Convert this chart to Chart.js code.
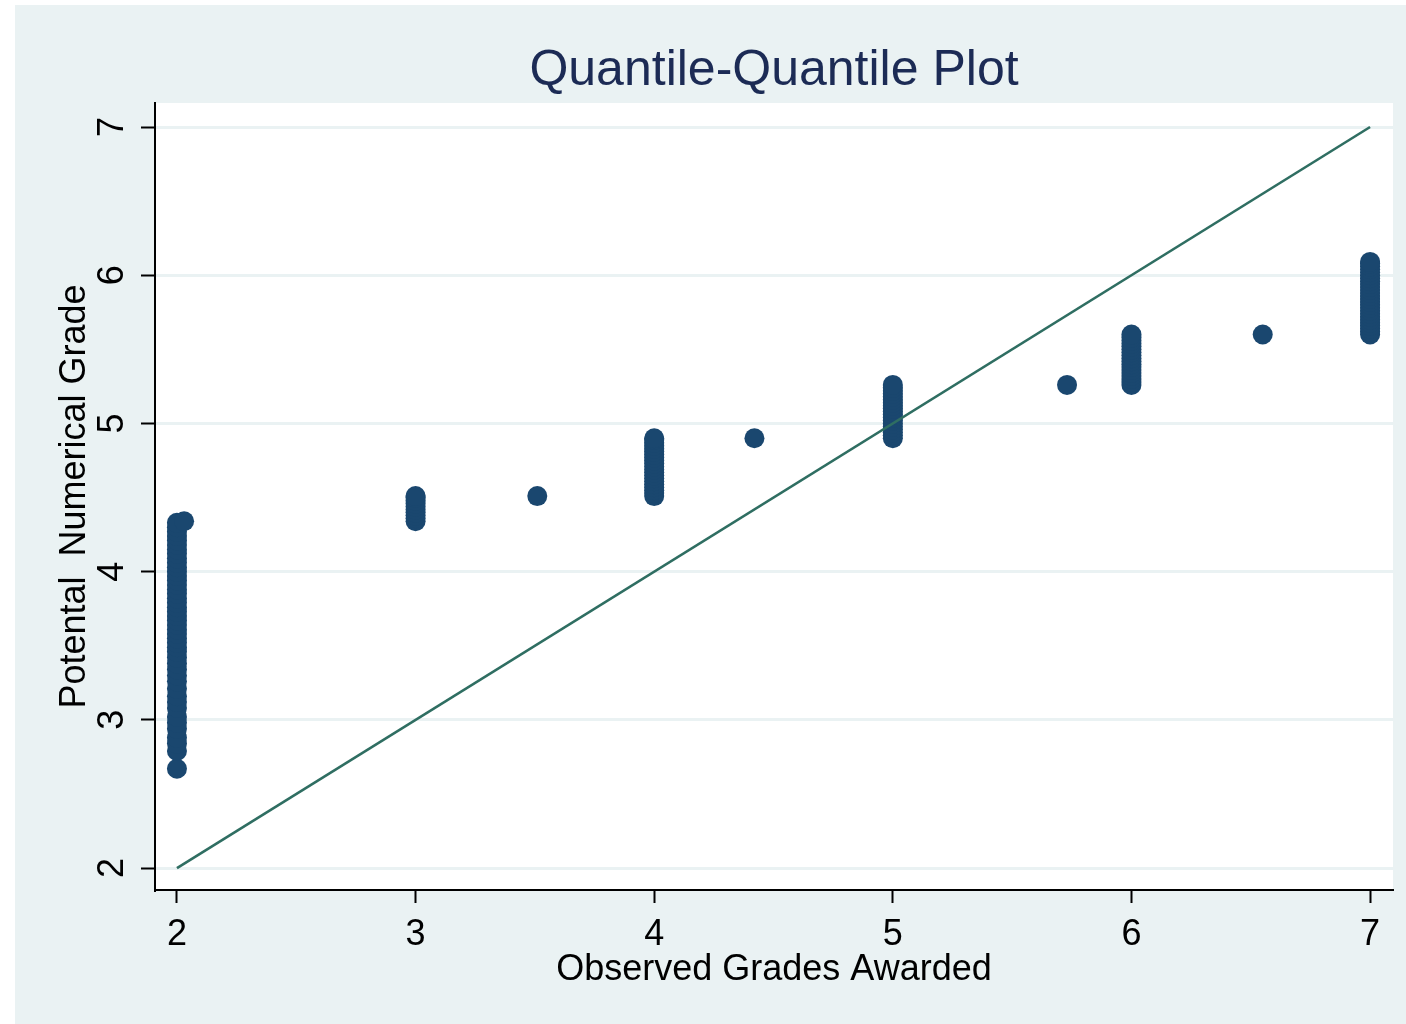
<!DOCTYPE html>
<html>
<head>
<meta charset="utf-8">
<script src="https://cdn.jsdelivr.net/npm/chart.js@4/dist/chart.umd.min.js"></script>
<style>
  html, body { margin: 0; padding: 0; background: #ffffff; }
  canvas { display: block; }
</style>
</head>
<body>
<canvas id="qq" width="1406" height="1024" style="width:1406px;height:1024px"></canvas>
<script>
// Tick labels on both axes
const xTickValues = [2, 3, 4, 5, 6, 7];
const yTickValues = [2, 3, 4, 5, 6, 7];

// Potential numerical grade quantiles, grouped by the observed grade they pair with
const potentialAtGrade2 = [2.67, 2.79, 2.84, 2.88, 2.94, 2.98, 3.02, 3.08, 3.12, 3.16, 3.21, 3.26,
  3.30, 3.34, 3.38, 3.42, 3.46, 3.49, 3.52, 3.55, 3.58, 3.61, 3.64, 3.67, 3.70, 3.73, 3.76, 3.79,
  3.82, 3.85, 3.88, 3.91, 3.94, 3.97, 4.00, 4.03, 4.06, 4.09, 4.12, 4.15, 4.18, 4.21, 4.24, 4.27,
  4.30, 4.33];
const potentialAtGrade3 = [4.34, 4.36, 4.38, 4.40, 4.42, 4.44, 4.46, 4.48, 4.50, 4.51];
const potentialAtGrade4 = [4.51, 4.53, 4.55, 4.57, 4.59, 4.61, 4.63, 4.65, 4.67, 4.69, 4.71, 4.73,
  4.75, 4.77, 4.79, 4.81, 4.83, 4.85, 4.87, 4.89, 4.90];
const potentialAtGrade5 = [4.90, 4.92, 4.94, 4.96, 4.98, 5.00, 5.02, 5.04, 5.06, 5.08, 5.10, 5.12,
  5.14, 5.16, 5.18, 5.20, 5.22, 5.24, 5.26];
const potentialAtGrade6 = [5.26, 5.28, 5.30, 5.32, 5.34, 5.36, 5.38, 5.40, 5.42, 5.44, 5.46, 5.48,
  5.50, 5.52, 5.54, 5.56, 5.58, 5.60];
const potentialAtGrade7 = [5.60, 5.62, 5.64, 5.66, 5.68, 5.70, 5.72, 5.74, 5.76, 5.78, 5.80, 5.82,
  5.84, 5.86, 5.88, 5.90, 5.92, 5.94, 5.96, 5.98, 6.00, 6.02, 6.04, 6.06, 6.08, 6.09];

// Quantile pairs that fall between whole observed grades
const betweenObserved = [2.03, 3.51, 4.42, 5.73, 6.55];
const betweenPotential = [4.34, 4.51, 4.90, 5.26, 5.60];

// Line of equality
const equalityX = [2, 7];
const equalityY = [2, 7];

const gradeColumns = [
  [2, potentialAtGrade2],
  [3, potentialAtGrade3],
  [4, potentialAtGrade4],
  [5, potentialAtGrade5],
  [6, potentialAtGrade6],
  [7, potentialAtGrade7]
];

const qqPoints = [];
gradeColumns.forEach(([grade, values]) => values.forEach(v => qqPoints.push({ x: grade, y: v })));
betweenObserved.forEach((x, i) => qqPoints.push({ x: x, y: betweenPotential[i] }));

const equalityPoints = equalityX.map((x, i) => ({ x: x, y: equalityY[i] }));

const FONT = "'Liberation Sans', Arial, Helvetica, sans-serif";
const BG = '#eaf2f3';

const backgroundPlugin = {
  id: 'stataBackground',
  beforeDraw(chart) {
    const { ctx, chartArea } = chart;
    ctx.save();
    ctx.fillStyle = '#ffffff';
    ctx.fillRect(0, 0, chart.width, chart.height);
    ctx.fillStyle = BG;
    ctx.fillRect(15, 5, chart.width - 15, chart.height - 5);
    ctx.fillStyle = '#ffffff';
    ctx.fillRect(chartArea.left, chartArea.top, chartArea.right - chartArea.left, chartArea.bottom - chartArea.top);
    ctx.restore();
  }
};

// Vertical axis labels are written sideways, reading upward
const sidewaysYLabels = {
  id: 'sidewaysYLabels',
  afterDraw(chart) {
    const scale = chart.scales.y;
    const { ctx } = chart;
    ctx.save();
    ctx.fillStyle = '#000000';
    ctx.font = '36px ' + FONT;
    ctx.textAlign = 'center';
    ctx.textBaseline = 'middle';
    scale.ticks.forEach(t => {
      const py = scale.getPixelForValue(t.value);
      ctx.save();
      ctx.translate(113, py);
      ctx.rotate(-Math.PI / 2);
      ctx.fillText(String(t.value), 0, 0);
      ctx.restore();
    });
    ctx.restore();
  }
};

new Chart(document.getElementById('qq'), {
  type: 'scatter',
  data: {
    datasets: [
      {
        type: 'line',
        data: equalityPoints,
        borderColor: '#2f6e62',
        borderWidth: 2.6,
        pointRadius: 0,
        fill: false,
        order: 0
      },
      {
        data: qqPoints,
        backgroundColor: '#1a476f',
        borderColor: '#1a476f',
        borderWidth: 0,
        pointRadius: 10,
        order: 1
      }
    ]
  },
  options: {
    responsive: false,
    animation: false,
    layout: { padding: { left: 15, right: 13, top: 0, bottom: 0 } },
    plugins: {
      legend: { display: false },
      tooltip: { enabled: false },
      title: {
        display: true,
        text: 'Quantile-Quantile Plot',
        fullSize: false,
        color: '#1c2b55',
        font: { family: FONT, size: 50, weight: 'normal' },
        padding: { top: 41, bottom: 2 }
      }
    },
    scales: {
      x: {
        type: 'linear',
        min: 1.908,
        max: 7.096,
        afterBuildTicks(scale) { scale.ticks = xTickValues.map(v => ({ value: v })); },
        afterFit(scale) { scale.height = 134; },
        ticks: {
          color: '#000000',
          font: { family: FONT, size: 36 },
          padding: 10,
          maxRotation: 0,
          minRotation: 0
        },
        grid: {
          drawOnChartArea: false,
          drawTicks: true,
          tickLength: 13,
          tickColor: '#000000',
          tickWidth: 2
        },
        border: { display: true, color: '#000000', width: 2 },
        title: {
          display: true,
          text: 'Observed Grades Awarded',
          color: '#000000',
          font: { family: FONT, size: 36 },
          padding: { top: 0, bottom: 32 }
        }
      },
      y: {
        type: 'linear',
        min: 1.852,
        max: 7.162,
        afterBuildTicks(scale) { scale.ticks = yTickValues.map(v => ({ value: v })); },
        afterFit(scale) { scale.width = 140; },
        ticks: { display: false },
        grid: {
          color: BG,
          lineWidth: 3,
          drawTicks: true,
          tickLength: 14,
          tickColor: '#000000',
          tickWidth: 2
        },
        border: { display: true, color: '#000000', width: 2 },
        title: {
          display: true,
          text: 'Potental  Numerical Grade',
          color: '#000000',
          font: { family: FONT, size: 36 },
          padding: { top: 38, bottom: 0 }
        }
      }
    }
  },
  plugins: [backgroundPlugin, sidewaysYLabels]
});
</script>
</body>
</html>
